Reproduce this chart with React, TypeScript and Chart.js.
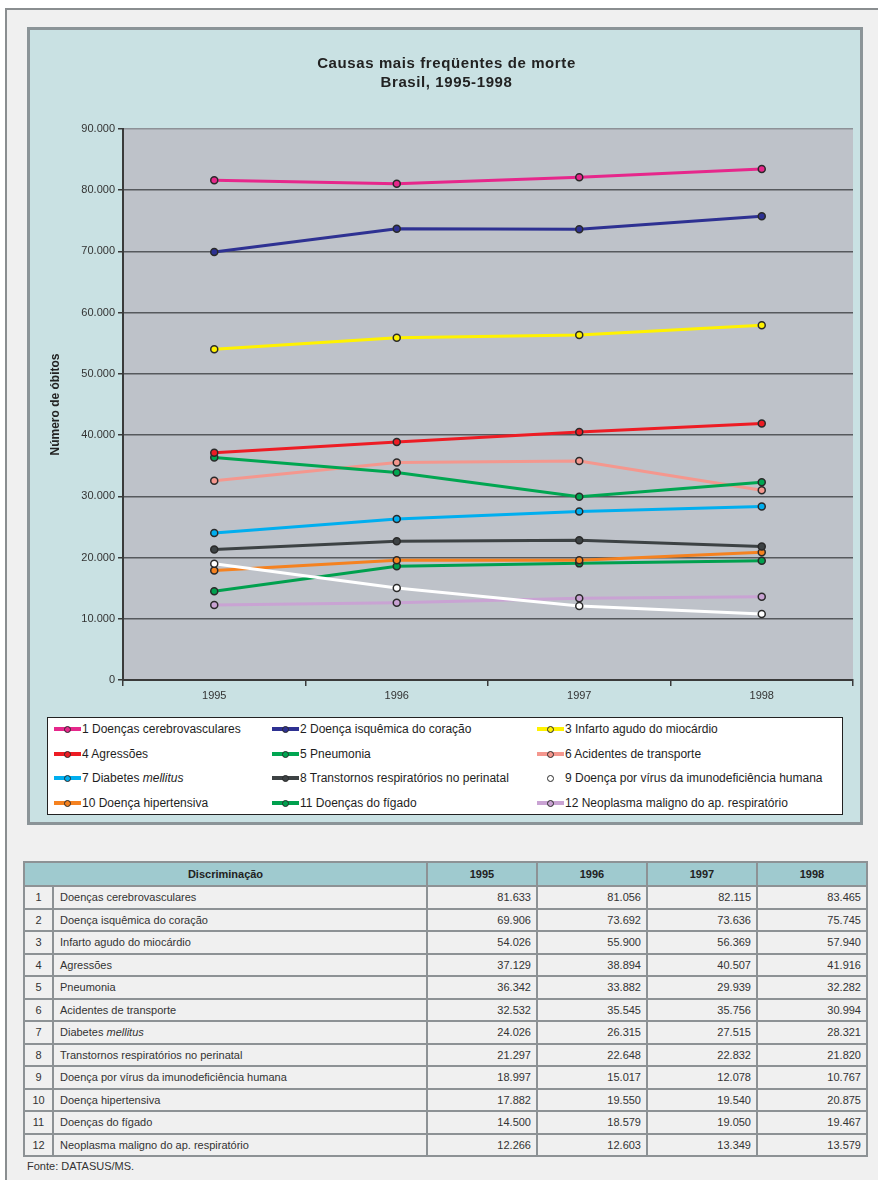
import React, { useEffect, useRef } from "react";
import { Chart, registerables } from "chart.js";

Chart.register(...registerables);

const titleLines = ["Causas mais freqüentes de morte", "Brasil, 1995-1998"];
const yAxisTitle = "Número de óbitos";
const years = ["1995", "1996", "1997", "1998"];
const causes = [
  "Doenças cerebrovasculares",
  "Doença isquêmica do coração",
  "Infarto agudo do miocárdio",
  "Agressões",
  "Pneumonia",
  "Acidentes de transporte",
  "Diabetes mellitus",
  "Transtornos respiratórios no perinatal",
  "Doença por vírus da imunodeficiência humana",
  "Doença hipertensiva",
  "Doenças do fígado",
  "Neoplasma maligno do ap. respiratório",
];
const cerebrovasculares = [81633, 81056, 82115, 83465];
const isquemica = [69906, 73692, 73636, 75745];
const infarto = [54026, 55900, 56369, 57940];
const agressoes = [37129, 38894, 40507, 41916];
const pneumonia = [36342, 33882, 29939, 32282];
const acidentes = [32532, 35545, 35756, 30994];
const diabetes = [24026, 26315, 27515, 28321];
const perinatal = [21297, 22648, 22832, 21820];
const hiv = [18997, 15017, 12078, 10767];
const hipertensiva = [17882, 19550, 19540, 20875];
const figado = [14500, 18579, 19050, 19467];
const neoplasma = [12266, 12603, 13349, 13579];
const seriesValues = [
  cerebrovasculares, isquemica, infarto, agressoes, pneumonia, acidentes,
  diabetes, perinatal, hiv, hipertensiva, figado, neoplasma,
];
const seriesColors = [
  "#e6278b", "#2e3192", "#fff200", "#ed1c24", "#00a651", "#f4978e",
  "#00aeef", "#3d4244", "#ffffff", "#f58220", "#00a04e", "#c9a3d3",
];
const yTicks = [0, 10000, 20000, 30000, 40000, 50000, 60000, 70000, 80000, 90000];
const sourceNote = "Fonte: DATASUS/MS.";

const FONT = '"Liberation Sans", Arial, sans-serif';

function fmt(v: number): string {
  return String(v).replace(/\B(?=(\d{3})+(?!\d))/g, ".");
}

function renderName(name: string) {
  if (name.includes("mellitus")) {
    const [a] = name.split("mellitus");
    return (
      <span>
        {a}
        <i>mellitus</i>
      </span>
    );
  }
  return <span>{name}</span>;
}

const bgPlugin = {
  id: "plotBg",
  beforeDraw(chart: any) {
    const { ctx, chartArea } = chart;
    ctx.save();
    ctx.fillStyle = "#bec2c9";
    ctx.fillRect(chartArea.left, chartArea.top, chartArea.right - chartArea.left, chartArea.bottom - chartArea.top);
    ctx.restore();
  },
};

const titlePlugin = {
  id: "customTitle",
  afterDraw(chart: any) {
    const ctx = chart.ctx;
    ctx.save();
    ctx.font = "bold 15px " + FONT;
    try {
      (ctx as any).letterSpacing = "0.6px";
    } catch (e) {}
    ctx.fillStyle = "#222222";
    ctx.textAlign = "center";
    ctx.textBaseline = "middle";
    const cx = chart.width / 2 + 2;
    ctx.fillText(titleLines[0], cx, 34);
    ctx.fillText(titleLines[1], cx, 53);
    ctx.restore();
  },
};

function LineChart() {
  const ref = useRef<HTMLCanvasElement | null>(null);
  useEffect(() => {
    if (!ref.current) return;
    Chart.defaults.font.family = FONT;
    const chart = new Chart(ref.current, {
      type: "line",
      data: {
        labels: years,
        datasets: seriesValues.map((vals, i) => ({
          label: causes[i],
          data: vals,
          borderColor: seriesColors[i],
          backgroundColor: seriesColors[i],
          borderWidth: 3,
          pointRadius: 3.5,
          pointHoverRadius: 3.5,
          pointBorderWidth: 1.5,
          pointBorderColor: "#2a2a2a",
          pointBackgroundColor: seriesColors[i],
          tension: 0,
          fill: false,
        })),
      },
      options: {
        animation: false,
        responsive: false,
        maintainAspectRatio: false,
        events: [],
        layout: { padding: { left: 15, top: 99, right: 6, bottom: 0 } },
        plugins: {
          legend: { display: false },
          title: { display: false },
          tooltip: { enabled: false },
        },
        scales: {
          x: {
            type: "category",
            offset: true,
            grid: {
              offset: true,
              drawOnChartArea: false,
              drawTicks: true,
              tickLength: 6,
              color: "#3a3a3a",
              lineWidth: 1.5,
            },
            border: { display: true, color: "#3a3a3a", width: 2 },
            ticks: { color: "#333333", font: { size: 11, family: FONT }, padding: 3 },
            afterFit(s: any) {
              s.height = 30;
            },
          },
          y: {
            min: 0,
            max: 90000,
            afterBuildTicks(s: any) {
              s.ticks = yTicks.map((v) => ({ value: v }));
            },
            grid: {
              color: (c: any) => (c.tick && c.tick.value === 90000 ? "#8d9197" : "#56595d"),
              lineWidth: 1.5,
              tickLength: 5,
              tickColor: "#3a3a3a",
            },
            border: { display: true, color: "#3a3a3a", width: 2 },
            ticks: {
              color: "#333333",
              font: { size: 11, family: FONT },
              padding: 3,
              callback: (v: any) => fmt(Number(v)),
            },
            title: {
              display: true,
              text: yAxisTitle,
              color: "#222222",
              font: { size: 12, weight: "bold", family: FONT },
              padding: { top: 3, bottom: 0 },
            },
            afterFit(s: any) {
              s.width = 78;
            },
          },
        },
      },
      plugins: [bgPlugin, titlePlugin],
    } as any);
    return () => chart.destroy();
  }, []);
  return <canvas ref={ref} width={829} height={680} style={{ position: "absolute", left: 30, top: 30, width: 829, height: 680 }} />;
}

function Legend() {
  const colX = [7, 225, 490];
  const rowY = [12, 37, 61, 86];
  return (
    <div
      style={{
        position: "absolute",
        left: 47,
        top: 717,
        width: 796,
        height: 98,
        boxSizing: "border-box",
        border: "1px solid #222",
        background: "#ffffff",
        fontFamily: FONT,
        fontSize: 12,
        color: "#1e1e1e",
      }}
    >
      {causes.map((c, i) => {
        const col = i % 3;
        const row = Math.floor(i / 3);
        return (
          <div
            key={i}
            style={{
              position: "absolute",
              left: colX[col] - 1,
              top: rowY[row] - 1 - 8,
              height: 16,
              display: "flex",
              alignItems: "center",
              whiteSpace: "nowrap",
            }}
          >
            <span style={{ position: "relative", width: 27, height: 16, display: "inline-block", marginRight: 1 }}>
              <span
                style={{
                  position: "absolute",
                  left: 0,
                  top: 6,
                  width: 27,
                  height: 4,
                  background: seriesColors[i],
                }}
              />
              <span
                style={{
                  position: "absolute",
                  left: 9.5,
                  top: 4.5,
                  width: 7,
                  height: 7,
                  boxSizing: "border-box",
                  borderRadius: "50%",
                  border: "1.5px solid #2a2a2a",
                  background: seriesColors[i],
                }}
              />
            </span>
            <span>
              {i + 1} {renderName(c)}
            </span>
          </div>
        );
      })}
    </div>
  );
}

function DataTable() {
  const widths = [29, 374, 110, 110, 110, 110];
  const border = "2px solid #8d9295";
  const cellBase: React.CSSProperties = {
    boxSizing: "border-box",
    borderRight: border,
    borderBottom: border,
    display: "flex",
    alignItems: "center",
    overflow: "hidden",
    whiteSpace: "nowrap",
  };
  return (
    <div
      style={{
        position: "absolute",
        left: 23,
        top: 861,
        width: 845,
        boxSizing: "border-box",
        borderLeft: border,
        borderTop: border,
        fontFamily: FONT,
        fontSize: 11,
        color: "#333333",
      }}
    >
      <div style={{ display: "flex", height: 24, background: "#9fcacf", fontWeight: "bold", color: "#222" }}>
        <div style={{ ...cellBase, width: widths[0] + widths[1], justifyContent: "center" }}>Discriminação</div>
        {years.map((y, j) => (
          <div key={y} style={{ ...cellBase, width: widths[2 + j], justifyContent: "center" }}>
            {y}
          </div>
        ))}
      </div>
      {causes.map((c, i) => (
        <div key={i} style={{ display: "flex", height: 22.5 }}>
          <div style={{ ...cellBase, width: widths[0], justifyContent: "center" }}>{i + 1}</div>
          <div style={{ ...cellBase, width: widths[1], paddingLeft: 6 }}>{renderName(c)}</div>
          {seriesValues[i].map((v, j) => (
            <div key={j} style={{ ...cellBase, width: widths[2 + j], justifyContent: "flex-end", paddingRight: 5 }}>
              {fmt(v)}
            </div>
          ))}
        </div>
      ))}
    </div>
  );
}

export default function App() {
  return (
    <div style={{ position: "absolute", left: 0, top: 0, width: 878, height: 1180, overflow: "hidden", background: "#ffffff" }}>
      <div
        style={{
          position: "absolute",
          left: 5,
          top: 8,
          width: 873,
          height: 1172,
          boxSizing: "border-box",
          borderLeft: "2px solid #8a8e90",
          borderTop: "2px solid #8a8e90",
          background: "#f0f0f0",
        }}
      />
      <div
        style={{
          position: "absolute",
          left: 27,
          top: 27,
          width: 836,
          height: 798,
          boxSizing: "border-box",
          border: "3px solid #8b9498",
          background: "#c9e1e3",
        }}
      />
      <LineChart />
      <Legend />
      <DataTable />
      <div
        style={{
          position: "absolute",
          left: 27,
          top: 1160,
          fontFamily: FONT,
          fontSize: 11,
          color: "#333333",
        }}
      >
        {sourceNote}
      </div>
    </div>
  );
}
